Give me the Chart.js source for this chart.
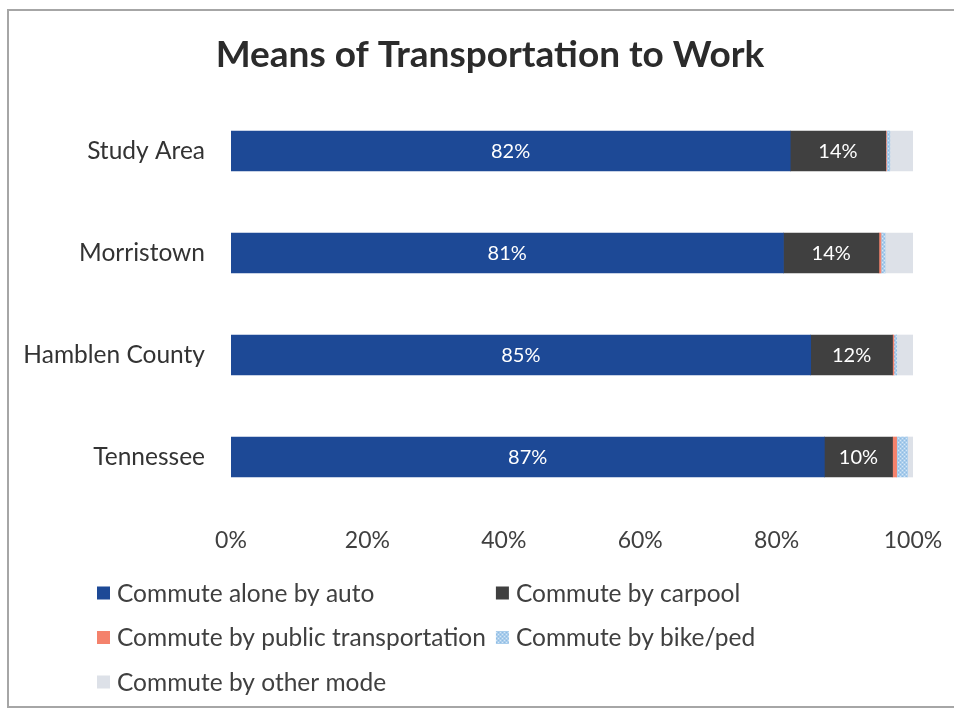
<!DOCTYPE html>
<html>
<head>
<meta charset="utf-8">
<title>Means of Transportation to Work</title>
<script src="https://cdn.jsdelivr.net/npm/chart.js@4.4.1/dist/chart.umd.min.js"></script>
<style>
  html, body { margin: 0; padding: 0; background: #ffffff; overflow: hidden; }
  canvas { display: block; }
</style>
</head>
<body>
<canvas id="chart" width="954" height="709"></canvas>
<script>
// Regions compared
const regions = ['Study Area', 'Morristown', 'Hamblen County', 'Tennessee'];

// Share of workers by commute mode (%)
const aloneByAuto   = [82, 81, 85, 87];
const byCarpool     = [14, 14, 12, 10];
const byPublic      = [0.1, 0.3, 0.2, 0.6];
const byBikePed     = [0.5, 0.6, 0.4, 1.6];
const byOtherMode   = [3.4, 4.1, 2.4, 0.8];

const seriesNames = [
  'Commute alone by auto',
  'Commute by carpool',
  'Commute by public transportation',
  'Commute by bike/ped',
  'Commute by other mode'
];

// Percent axis ticks
const xTickValues = [0, 20, 40, 60, 80, 100];

const FONT = 'Lato, "Open Sans", sans-serif';

// Light blue dotted fill used for the bike/ped series
function dottedFill() {
  const c = document.createElement('canvas');
  c.width = 4; c.height = 4;
  const g = c.getContext('2d');
  g.fillStyle = '#a9cdec';
  g.fillRect(0, 0, 4, 4);
  g.fillStyle = '#d6e7f6';
  g.fillRect(0, 0, 1, 1);
  g.fillRect(2, 2, 1, 1);
  g.fillStyle = '#8fbbe3';
  g.fillRect(2, 0, 1, 1);
  g.fillRect(0, 2, 1, 1);
  return g.createPattern(c, 'repeat');
}

const seriesValues = [aloneByAuto, byCarpool, byPublic, byBikePed, byOtherMode];
const seriesColors = ['#1d4996', '#404040', '#f4826c', dottedFill(), '#dde1e8'];
const seriesShowValue = [true, true, false, false, false];

const datasets = seriesNames.map((name, i) => ({
  label: name,
  data: seriesValues[i],
  backgroundColor: seriesColors[i],
  borderWidth: 0,
  showValue: seriesShowValue[i],
  barThickness: 40
}));

// Thin grey frame around the chart (left, top and bottom edges)
const frame = {
  id: 'frame',
  beforeDraw(chart) {
    const ctx = chart.ctx;
    ctx.save();
    ctx.strokeStyle = '#a6a6a6';
    ctx.lineWidth = 2;
    ctx.beginPath();
    ctx.moveTo(chart.width, 10);
    ctx.lineTo(8, 10);
    ctx.lineTo(8, 707);
    ctx.lineTo(chart.width, 707);
    ctx.stroke();
    ctx.restore();
  }
};

// Centre the title over the plot rather than the full canvas
const titleShift = {
  id: 'titleShift',
  afterLayout(chart) {
    const t = chart.titleBlock;
    if (t) {
      t.left = 67;
      t.width = t.right - t.left;
    }
  }
};

// White value labels centred inside the larger segments
const segmentLabels = {
  id: 'segmentLabels',
  afterDatasetsDraw(chart) {
    const ctx = chart.ctx;
    ctx.save();
    ctx.font = '20px ' + FONT;
    ctx.fillStyle = '#ffffff';
    ctx.textAlign = 'center';
    ctx.textBaseline = 'middle';
    chart.data.datasets.forEach((ds, di) => {
      if (!ds.showValue) return;
      chart.getDatasetMeta(di).data.forEach((bar, i) => {
        const p = bar.getProps(['x', 'y', 'base'], true);
        ctx.fillText(Math.round(ds.data[i]) + '%', (p.x + p.base) / 2, p.y + 1);
      });
    });
    ctx.restore();
  }
};

// Two-column legend under the axis
const gridLegend = {
  id: 'gridLegend',
  afterDraw(chart) {
    const ctx = chart.ctx;
    const items = chart.data.datasets;
    const box = 13, gap = 7, colGap = 10, rowH = 44.5;
    const left = 97;
    const firstRow = chart.chartArea.bottom + 85;
    ctx.save();
    ctx.font = '24.5px ' + FONT;
    let col1 = 0;
    items.forEach((d, i) => {
      if (i % 2 === 0) col1 = Math.max(col1, ctx.measureText(d.label).width);
    });
    const col2X = left + box + gap + col1 + colGap;
    ctx.textAlign = 'left';
    ctx.textBaseline = 'middle';
    items.forEach((d, i) => {
      const x = i % 2 === 0 ? left : col2X;
      const y = firstRow + Math.floor(i / 2) * rowH;
      ctx.fillStyle = d.backgroundColor;
      ctx.fillRect(x, y - box / 2, box, box);
      ctx.fillStyle = '#404040';
      ctx.fillText(d.label, x + box + gap, y + 1);
    });
    ctx.restore();
  }
};

new Chart(document.getElementById('chart'), {
  type: 'bar',
  data: { labels: regions, datasets },
  plugins: [frame, titleShift, segmentLabels, gridLegend],
  options: {
    indexAxis: 'y',
    responsive: false,
    animation: false,
    devicePixelRatio: 1,
    layout: { padding: { left: 0, right: 41, top: 0, bottom: 151 } },
    plugins: {
      legend: { display: false },
      tooltip: { enabled: false },
      title: {
        display: true,
        text: 'Means of Transportation to Work',
        color: '#2b2b2b',
        font: { family: FONT, size: 37, weight: 'bold', lineHeight: 1.2 },
        padding: { top: 33, bottom: 22.6 }
      }
    },
    scales: {
      x: {
        stacked: true,
        min: 0,
        max: 100,
        afterBuildTicks(scale) {
          scale.ticks = xTickValues.map(v => ({ value: v }));
        },
        afterFit(scale) {
          scale.height = 50;
          scale.paddingLeft = 0;
          scale.paddingRight = 0;
        },
        grid: { display: false, drawTicks: false },
        border: { display: false },
        ticks: {
          padding: 19,
          color: '#404040',
          font: { family: FONT, size: 23 },
          maxRotation: 0,
          callback: v => v + '%'
        }
      },
      y: {
        stacked: true,
        afterFit(scale) { scale.width = 231; },
        grid: { display: false, drawTicks: false },
        border: { display: false },
        ticks: {
          padding: 26,
          color: '#333333',
          font: { family: FONT, size: 24.5 }
        }
      }
    }
  }
});
</script>
</body>
</html>
